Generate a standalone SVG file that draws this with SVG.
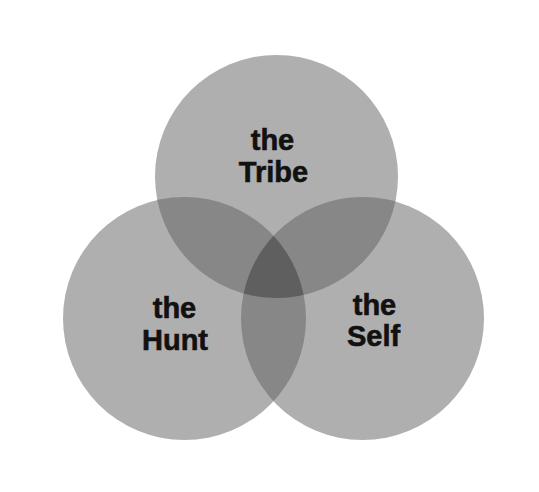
<svg xmlns="http://www.w3.org/2000/svg" width="539" height="492" viewBox="0 0 539 492">
<style>
.c{fill:#afafaf}
.d{fill:#878787}
.t{fill:#5f5f5f}
.lbl{font-family:"Liberation Sans",Arial,sans-serif;font-weight:bold;font-size:29px;fill:#111111;stroke:#111111;stroke-width:0.6;text-anchor:middle}
</style>
<defs>
<clipPath id="cT"><circle cx="276.5" cy="176.5" r="121.5"/></clipPath>
<clipPath id="cL"><circle cx="184.5" cy="318.5" r="121.5"/></clipPath>
<clipPath id="cR"><circle cx="362.5" cy="318.5" r="121.5"/></clipPath>
</defs>
<rect width="539" height="492" fill="#ffffff"/>
<g id="tribe">
<circle class="c" cx="276.5" cy="176.5" r="121.5"/>
</g>
<g id="hunt">
<circle class="c" cx="184.5" cy="318.5" r="121.5"/>
</g>
<g id="self">
<circle class="c" cx="362.5" cy="318.5" r="121.5"/>
</g>
<g id="overlaps">
<circle class="d" cx="184.5" cy="318.5" r="121.5" clip-path="url(#cT)"/>
<circle class="d" cx="362.5" cy="318.5" r="121.5" clip-path="url(#cT)"/>
<circle class="d" cx="362.5" cy="318.5" r="121.5" clip-path="url(#cL)"/>
<g clip-path="url(#cT)"><circle class="t" cx="362.5" cy="318.5" r="121.5" clip-path="url(#cL)"/></g>
</g>
<g id="labels">
<text class="lbl" x="272.5" y="150">the</text>
<text class="lbl" x="273.5" y="182">Tribe</text>
<text class="lbl" x="174.5" y="318">the</text>
<text class="lbl" x="175" y="350">Hunt</text>
<text class="lbl" x="374.5" y="315">the</text>
<text class="lbl" x="373.5" y="346">Self</text>
</g>
</svg>
